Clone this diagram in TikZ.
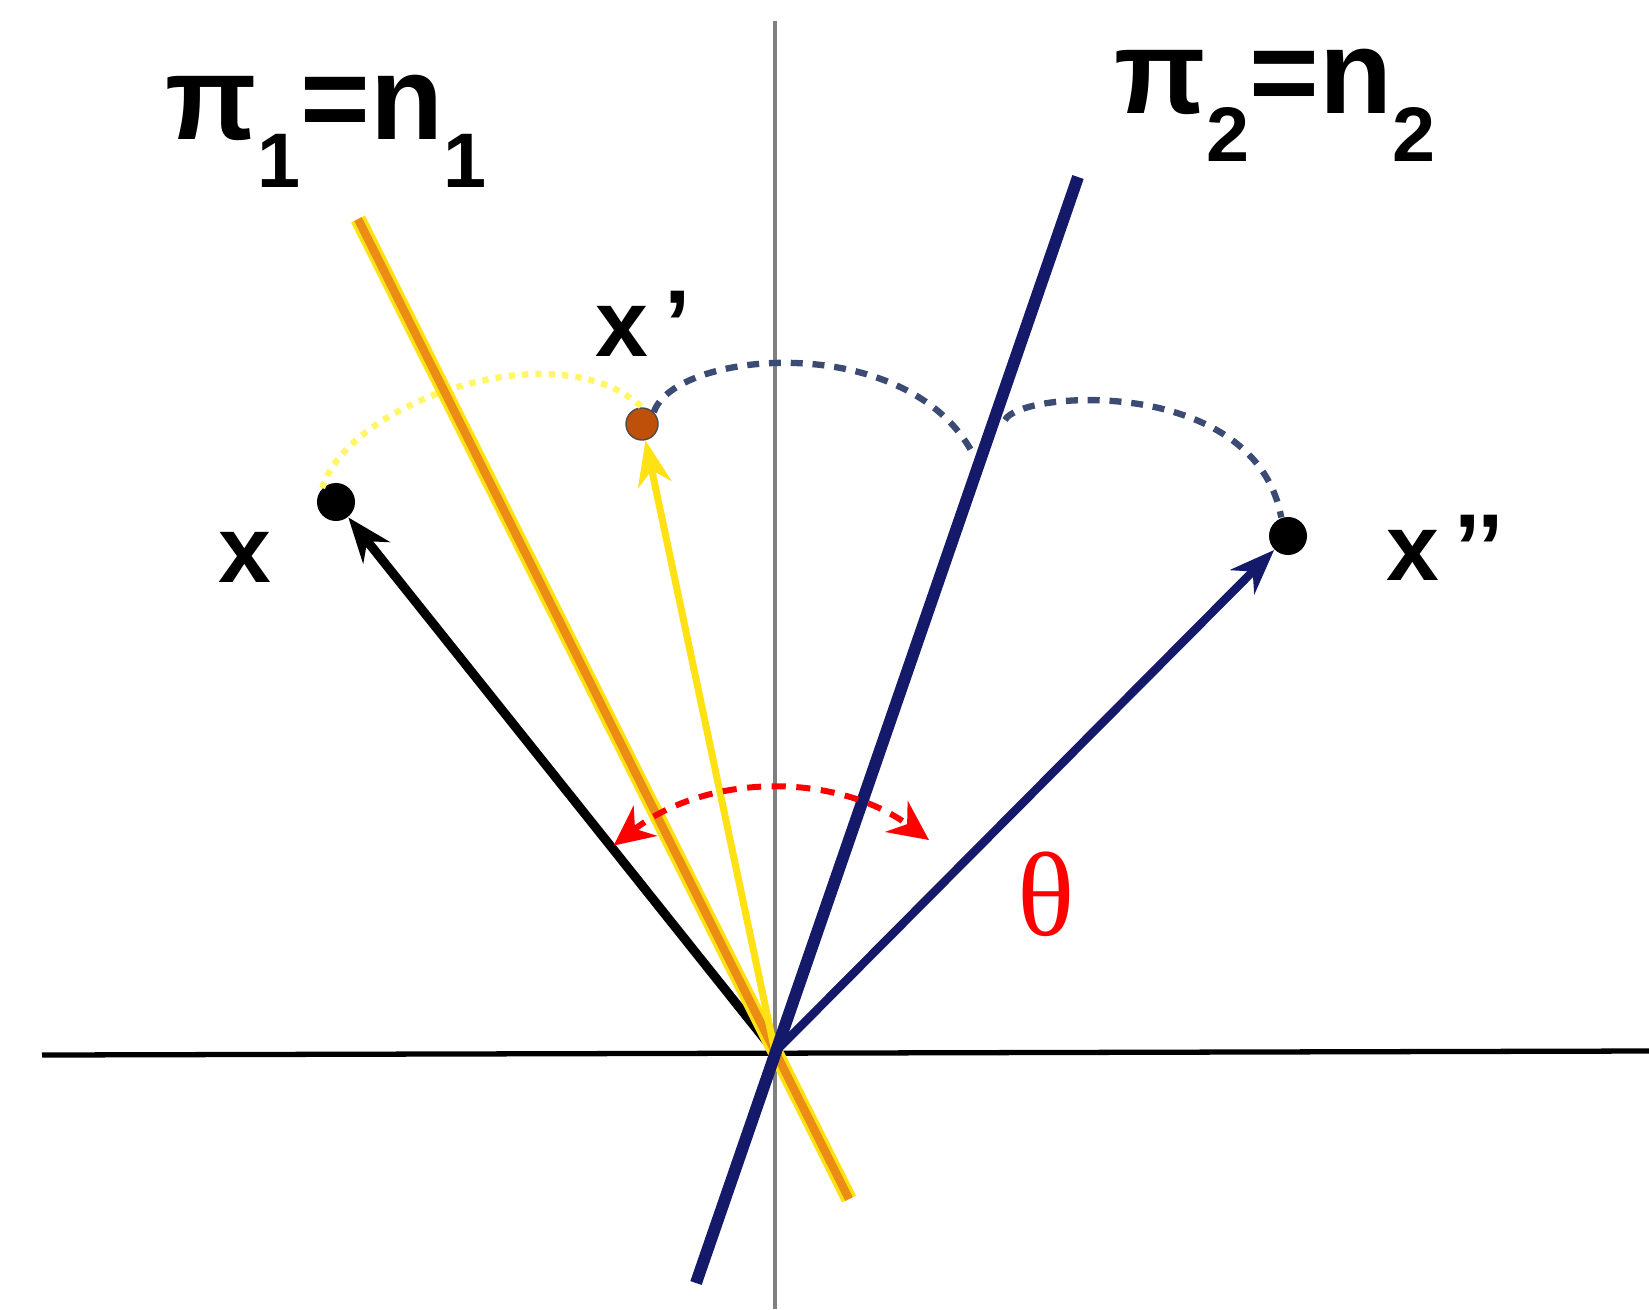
\documentclass[tikz,border=0pt]{standalone}
\usepackage{fontspec}
\setmainfont{Liberation Sans}
\newfontfamily\thetafont{Liberation Serif}
\usetikzlibrary{arrows.meta}
\newcommand{\lowidx}[1]{\raisebox{-0.4em}{\fontsize{22}{22}\selectfont #1}}
\definecolor{navy}{RGB}{20,25,105}
\definecolor{arcblue}{RGB}{60,75,115}
\definecolor{planeorange}{RGB}{235,140,20}
\definecolor{vecyellow}{RGB}{255,225,20}
\definecolor{dotorange}{RGB}{190,80,10}
\begin{document}
\begin{tikzpicture}[x=0.01cm, y=-0.01cm,
    dot/.style={circle, inner sep=0pt, minimum size=0.38cm},
    lbl/.style={font=\fontsize{27}{27}\selectfont\bfseries},
    big/.style={font=\fontsize{34}{34}\selectfont\bfseries},
    vec/.style={line width=2.6pt, -{Stealth[length=0.45cm, width=0.34cm]}},
    turn/.style={arcblue, line width=1.8pt, dash pattern=on 3.4pt off 2.8pt},
]
    \useasboundingbox (0,0) rectangle (1649,1309);
    \coordinate (O) at (775,1052);
    \draw[line width=1.5pt] (42,1055) -- (1649,1051);
    \draw[line width=1.1pt, gray] (775,21) -- (775,1309);
    \node[dot, fill=black] (x) at (336,502) {};
    \node[dot, fill=dotorange, draw=black!70, minimum size=0.32cm] (xp) at (642,424) {};
    \node[dot, fill=black] (xpp) at (1288,536) {};
    \draw[yellow!60, line width=1.8pt, dotted] (x.north west) .. controls (350,400) and (560,330) .. (xp.north);
    \draw[vec, black] (O) -- (x);
    \draw[vecyellow, line width=4.4pt] (358,219) -- (849,1199);
    \draw[planeorange, line width=2.4pt] (358,219) -- (849,1199);
    \draw[vec, vecyellow, line width=2pt] (O) -- (xp);
    \draw[navy, line width=3.4pt] (1078,177) -- (696,1283);
    \draw[vec, navy, line width=2.4pt] (O) -- (xpp);
    \draw[turn] (xp.north east) .. controls (675,350) and (905,330) .. (972,452);
    \draw[turn] (1005,420) .. controls (1020,390) and (1255,375) .. (xpp.110);
    \draw[red, line width=1.7pt, dash pattern=on 4pt off 3pt, {Stealth[length=0.4cm, width=0.38cm]}-{Stealth[length=0.4cm, width=0.38cm]}] (O) ++(-128:262) arc[start angle=-128, end angle=-54, radius=262];
    \node[lbl] (xlab) at (245,557) {x};
    \node[lbl] (xplab) at (643,324) {x\,’};
    \node[lbl] (xpplab) at (1445,548) {x\,’’};
    \node[big] (pione) at (326,131) {π\lowidx{1}=n\lowidx{1}};
    \node[big] (pitwo) at (1275,105) {π\lowidx{2}=n\lowidx{2}};
    \node[red, font=\fontsize{34}{34}\selectfont\thetafont] (theta) at (1046,894) {θ};
\end{tikzpicture}
\end{document}
